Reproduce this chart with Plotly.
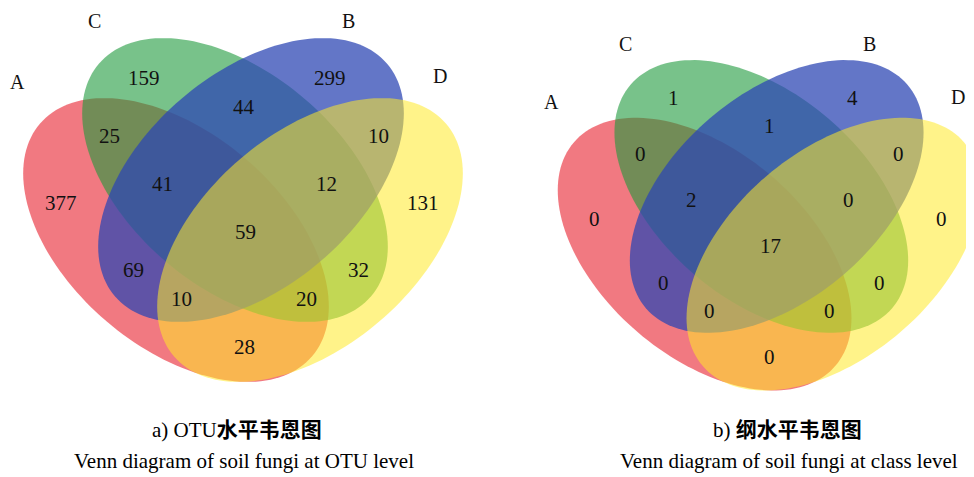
import math
import plotly.graph_objects as go

# ---------------- data ----------------
set_names = ["A", "B", "C", "D"]
region_keys = ["C", "B", "CB", "AC", "BD", "ACB", "CBD", "A", "D",
               "ACBD", "AB", "CD", "ABD", "ACD", "AD"]
otu_counts = [159, 299, 44, 25, 10, 41, 12, 377, 131, 59, 69, 32, 10, 20, 28]
class_counts = [1, 4, 1, 0, 0, 2, 0, 0, 0, 17, 0, 0, 0, 0, 0]
panel_titles = ["a) OTU<b>水平韦恩图</b>", "b) <b>纲水平韦恩图</b>"]
panel_subtitles = ["Venn diagram of soil fungi at OTU level",
                   "Venn diagram of soil fungi at class level"]

# ---------------- layout / style (geometry in a common venn frame) ----------------
OFF = 8  # page offset of the plot div (browser body margin)
W, H = 974, 477
ELL_A, ELL_B_AX, TILT = 179, 107, 40.5
ellipses = {  # set: (cx, cy, tilt sign, fill rgb, opacity)
    "A": (176, 240, +1, "rgb(232,32,45)", 0.60),
    "C": (235, 180, +1, "rgb(30,153,60)", 0.60),
    "B": (251, 180, -1, "rgb(45,70,180)", 0.74),
    "D": (310, 240, -1, "rgb(255,234,40)", 0.55),
}
draw_order = ["A", "C", "B", "D"]
region_pos = {
    "C": (144, 76), "B": (330, 76), "CB": (244, 105), "AC": (109, 134),
    "BD": (378, 134), "ACB": (162, 182), "CBD": (326, 182), "A": (61, 201),
    "D": (423, 201), "ACBD": (245, 230), "AB": (133, 268), "CD": (358, 268),
    "ABD": (181, 297), "ACD": (306, 297), "AD": (244, 345),
}
name_pos = {"A": (17, 80), "C": (94, 19), "B": (348, 19), "D": (440, 74)}

# right panel: page_x = RX0 + (X - 243) * S, page_y = RY0 + (Y - 38) * S
S, RX0, RY0 = 0.961, 769, 60
half = W / 2
panels = [
    dict(xd=[0, 0.5], xr=[OFF, OFF + half], yr=[OFF + H, OFF], counts=otu_counts),
    dict(xd=[0.5, 1.0],
         xr=[243 + (OFF + half - RX0) / S, 243 + (OFF + W - RX0) / S],
         yr=[38 + (OFF + H - RY0) / S, 38 + (OFF - RY0) / S], counts=class_counts),
]

SERIF = "Liberation Serif, Times New Roman, serif"


def ellipse_path(cx, cy, a, b, tilt_deg, n=160):
    th = math.radians(tilt_deg)
    pts = []
    for i in range(n):
        t = 2 * math.pi * i / n
        x = cx + a * math.cos(t) * math.cos(th) - b * math.sin(t) * math.sin(th)
        y = cy + a * math.cos(t) * math.sin(th) + b * math.sin(t) * math.cos(th)
        pts.append(f"{x:.2f},{y:.2f}")
    return "M " + " L ".join(pts) + " Z"


fig = go.Figure()
shapes, annotations = [], []
for i, p in enumerate(panels):
    sfx = "" if i == 0 else str(i + 1)
    xref, yref = "x" + sfx, "y" + sfx
    fig.add_trace(go.Scatter(x=[], y=[], xaxis=xref, yaxis=yref, showlegend=False))
    fig.update_layout(**{
        "xaxis" + sfx: dict(domain=p["xd"], range=p["xr"], visible=False, fixedrange=True),
        "yaxis" + sfx: dict(domain=[0, 1], range=p["yr"], visible=False, fixedrange=True,
                            anchor=xref),
    })
    for s in draw_order:
        cx, cy, sg, col, op = ellipses[s]
        shapes.append(dict(type="path", xref=xref, yref=yref,
                           path=ellipse_path(cx, cy, ELL_A, ELL_B_AX, sg * TILT),
                           fillcolor=col, opacity=op, line=dict(width=0), layer="below"))
    for key, val in zip(region_keys, p["counts"]):
        x, y = region_pos[key]
        annotations.append(dict(x=x, y=y + 2, xref=xref, yref=yref, text=str(val),
                                xanchor="center", yanchor="middle", showarrow=False,
                                font=dict(family=SERIF, size=21, color="#111")))
    for s in set_names:
        x, y = name_pos[s]
        annotations.append(dict(x=x, y=y + 2, xref=xref, yref=yref, text=s,
                                xanchor="center", yanchor="middle", showarrow=False,
                                font=dict(family=SERIF, size=20, color="#111")))

cap_x = [(237, 244), (787, 789)]
cap_y = (430, 461)
for i in range(2):
    annotations.append(dict(x=(cap_x[i][0] - OFF) / W, y=1 - (cap_y[0] - OFF) / H,
                            xref="paper", yref="paper", xanchor="center", yanchor="middle",
                            text=panel_titles[i], showarrow=False,
                            font=dict(family=SERIF + ", Noto Sans CJK SC", size=21, color="#000")))
    annotations.append(dict(x=(cap_x[i][1] - OFF) / W, y=1 - (cap_y[1] - OFF) / H,
                            xref="paper", yref="paper", xanchor="center", yanchor="middle",
                            text=panel_subtitles[i], showarrow=False,
                            font=dict(family=SERIF, size=21, color="#000")))

fig.update_layout(width=W, height=H, margin=dict(l=0, r=0, t=0, b=0),
                  paper_bgcolor="white", plot_bgcolor="rgba(0,0,0,0)",
                  shapes=shapes, annotations=annotations, showlegend=False)
fig.write_html("out.html")
